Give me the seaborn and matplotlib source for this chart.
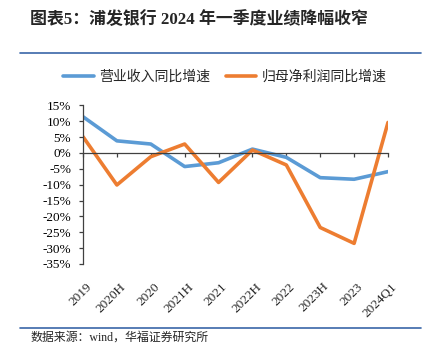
import matplotlib
matplotlib.use('Agg')
import matplotlib.pyplot as plt
import matplotlib.transforms as mtransforms
from matplotlib.lines import Line2D
import pandas as pd
import seaborn as sns

# 数据（单位：%）
periods = ['2019', '2020H', '2020', '2021H', '2021', '2022H', '2022', '2023H', '2023', '2024Q1']
revenue_yoy = [11.4, 3.8, 2.8, -4.3, -3.1, 1.2, -1.4, -7.8, -8.3, -5.9]
profit_yoy = [5.1, -10.1, -1.2, 2.8, -9.3, 0.9, -3.8, -23.5, -28.5, 9.6]
series_names = ['营业收入同比增速', '归母净利润同比增速']
y_ticks = [15, 10, 5, 0, -5, -10, -15, -20, -25, -30, -35]

title = '图表5：浦发银行 2024 年一季度业绩降幅收窄'
source = '数据来源：wind，华福证券研究所'

sns.set_theme(style='ticks')
plt.rcParams['font.family'] = ['Liberation Serif', 'Noto Sans CJK SC', 'DejaVu Sans']
plt.rcParams['axes.unicode_minus'] = False

df = pd.DataFrame({
    '期间': periods * 2,
    '增速': revenue_yoy + profit_yoy,
    '指标': [series_names[0]] * len(periods) + [series_names[1]] * len(periods),
})

fig = plt.figure(figsize=(4.34, 3.57), dpi=100)
ax = fig.add_axes([83 / 434, 1 - 264 / 357, (388 - 83) / 434, (264 - 105.3) / 357])

sns.lineplot(data=df, x='期间', y='增速', hue='指标', palette=['#5B9BD5', '#ED7D31'],
             linewidth=2.6, sort=False, ax=ax)

# 坐标轴
ax.set_xlim(0, len(periods) - 1)
ax.set_ylim(-35, 15)
ax.set_yticks(y_ticks)
ax.set_yticklabels([f'{v}%' for v in y_ticks])
ax.set_xlabel('')
ax.set_ylabel('')
for s in ['top', 'right']:
    ax.spines[s].set_visible(False)
ax.spines['bottom'].set_position(('data', 0))
for s in ['left', 'bottom']:
    ax.spines[s].set_color('#404040')
    ax.spines[s].set_linewidth(0.9)
ax.tick_params(axis='y', direction='out', length=3, width=0.9, pad=5.5, labelsize=9.5,
               color='#404040', labelcolor='black')
ax.tick_params(axis='x', direction='out', length=3, width=0.9, color='#404040', labelbottom=False)

# x轴标签放在底部
trans = mtransforms.blended_transform_factory(ax.transData, ax.transAxes)
for i, lab in enumerate(periods):
    ax.text(i + 0.08, -0.105, lab, rotation=45, ha='right', va='top', rotation_mode='anchor',
            transform=trans, fontsize=9.5)

# 图例
handles, labels = ax.get_legend_handles_labels()
ax.legend_.remove()
fig.legend(handles, labels, loc='center', bbox_to_anchor=(0.518, 0.784), ncol=2, frameon=False,
           prop={'family': ['Noto Sans CJK SC'], 'size': 10}, handlelength=2.2,
           handletextpad=0.4, columnspacing=1.1)

# 标题与来源
fig.text(30 / 434, 1 - 19 / 357, title, fontsize=12.2, fontweight='bold', ha='left', va='center')
fig.add_artist(Line2D([20 / 434, 421 / 434], [1 - 53.3 / 357] * 2, color='#3A66A8', lw=1.2))
fig.add_artist(Line2D([20 / 434, 421 / 434], [1 - 328 / 357] * 2, color='#3A66A8', lw=1.2))
fig.text(30 / 434, 1 - 338 / 357, source, fontsize=8.6, ha='left', va='center')

fig.savefig('out.png', dpi=100)
